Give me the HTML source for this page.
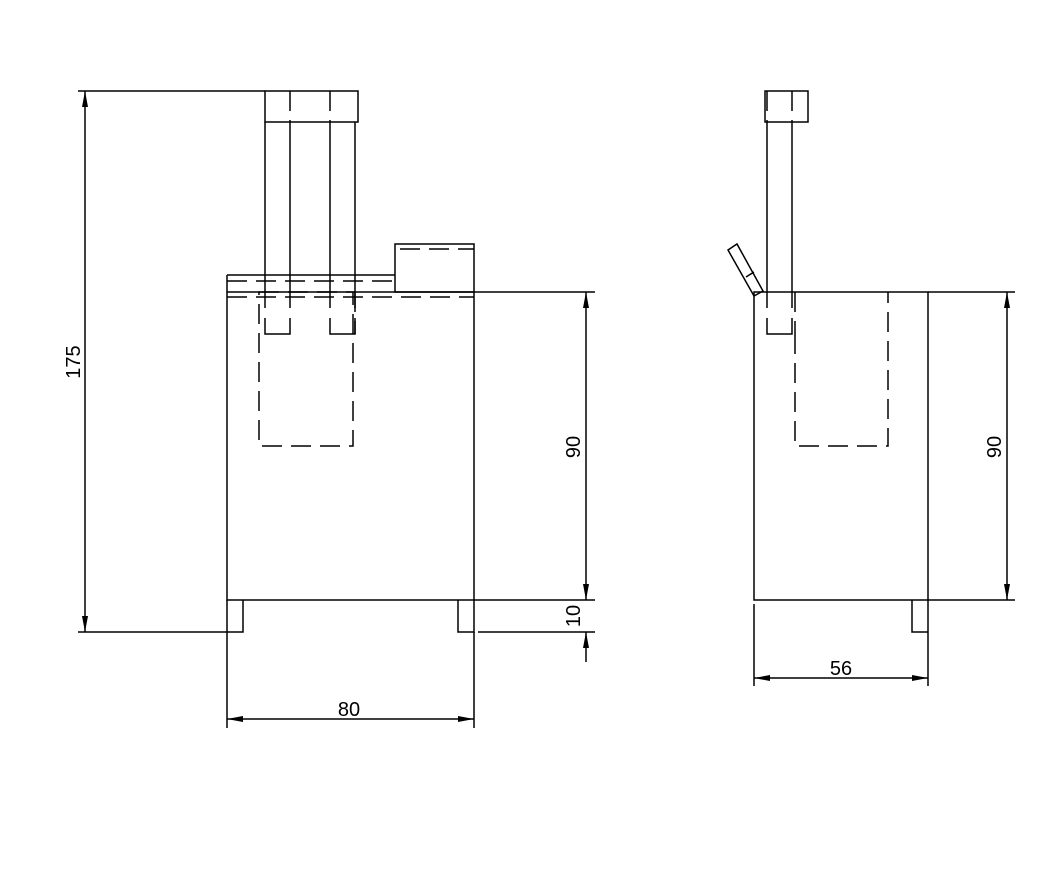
<!DOCTYPE html>
<html><head><meta charset="utf-8"><style>
html,body{margin:0;padding:0;background:#fff;}
svg{display:block;}
text{font-family:"Liberation Sans",Arial,sans-serif;font-size:20px;fill:#000;}
</style></head><body>
<svg width="1038" height="886" viewBox="0 0 1038 886" xmlns="http://www.w3.org/2000/svg">
<defs>
<marker id="a" viewBox="0 0 16 8" refX="16" refY="4" markerWidth="16" markerHeight="8" orient="auto" markerUnits="userSpaceOnUse"><path d="M0,1 L16,4 L0,7 Z" fill="#000"/></marker>
</defs>
<g stroke="#000" stroke-width="1.5" fill="none">
<!-- LEFT VIEW -->
<rect x="227" y="292" width="247" height="308"/>
<line x1="227" y1="275" x2="395" y2="275"/>
<line x1="227" y1="275" x2="227" y2="292"/>
<rect x="395" y="244" width="79" height="48"/>
<line x1="474" y1="292" x2="595" y2="292"/>
<line x1="474" y1="600" x2="595" y2="600"/>
<g stroke-dasharray="20,9">
<line x1="227" y1="281" x2="395" y2="281"/>
<line x1="227" y1="297" x2="474" y2="297"/>
<line x1="400" y1="249" x2="474" y2="249"/>
<rect x="259" y="292" width="94" height="154"/>
<line x1="355" y1="292" x2="355" y2="334"/>
</g>
<rect x="265" y="91" width="93" height="31"/>
<g stroke-dasharray="20,9">
<line x1="290" y1="91" x2="290" y2="122"/>
<line x1="330" y1="91" x2="330" y2="122"/>
</g>
<line x1="265" y1="122" x2="265" y2="308"/>
<line x1="290" y1="122" x2="290" y2="308"/>
<line x1="330" y1="122" x2="330" y2="308"/>
<line x1="355" y1="122" x2="355" y2="308"/>
<polyline points="265,318 265,334 290,334 290,318"/>
<polyline points="330,318 330,334 355,334 355,318"/>
<polyline points="227,600 227,632 243,632 243,600"/>
<polyline points="474,600 474,632 458,632 458,600"/>
<line x1="78" y1="91" x2="265" y2="91"/>
<line x1="78" y1="632" x2="227" y2="632"/>
<line x1="85" y1="362" x2="85" y2="91" marker-end="url(#a)"/>
<line x1="85" y1="362" x2="85" y2="632" marker-end="url(#a)"/>
<line x1="586" y1="446" x2="586" y2="292" marker-end="url(#a)"/>
<line x1="586" y1="446" x2="586" y2="600" marker-end="url(#a)"/>
<line x1="478" y1="632" x2="595" y2="632"/>
<line x1="586" y1="662" x2="586" y2="632" marker-end="url(#a)"/>
<line x1="227" y1="632" x2="227" y2="728"/>
<line x1="474" y1="632" x2="474" y2="728"/>
<line x1="350" y1="719" x2="227" y2="719" marker-end="url(#a)"/>
<line x1="350" y1="719" x2="474" y2="719" marker-end="url(#a)"/>

<!-- RIGHT VIEW -->
<rect x="754" y="292" width="174" height="308"/>
<line x1="928" y1="292" x2="1015" y2="292"/>
<line x1="928" y1="600" x2="1015" y2="600"/>
<rect x="765" y="91" width="43" height="31"/>
<g stroke-dasharray="20,9">
<line x1="767" y1="91" x2="767" y2="122"/>
<line x1="792" y1="91" x2="792" y2="122"/>
<line x1="795" y1="292" x2="795" y2="334"/>
<polyline points="795,334 795,446 888,446 888,292"/>
</g>
<line x1="767" y1="122" x2="767" y2="308"/>
<line x1="792" y1="122" x2="792" y2="308"/>
<polyline points="767,318 767,334 792,334 792,318"/>
<polygon points="728,250 737,244 763,291 754,296"/>
<line x1="746" y1="277" x2="754" y2="272"/>
<polyline points="912,600 912,632 928,632"/>
<line x1="928" y1="600" x2="928" y2="686"/>
<line x1="754" y1="604" x2="754" y2="686"/>
<line x1="1007" y1="446" x2="1007" y2="292" marker-end="url(#a)"/>
<line x1="1007" y1="446" x2="1007" y2="600" marker-end="url(#a)"/>
<line x1="841" y1="678" x2="754" y2="678" marker-end="url(#a)"/>
<line x1="841" y1="678" x2="928" y2="678" marker-end="url(#a)"/>
</g>
<text x="80" y="362" text-anchor="middle" transform="rotate(-90 80 362)">175</text>
<text x="580" y="447" text-anchor="middle" transform="rotate(-90 580 447)">90</text>
<text x="580" y="616" text-anchor="middle" transform="rotate(-90 580 616)">10</text>
<text x="349" y="716" text-anchor="middle">80</text>
<text x="1001" y="447" text-anchor="middle" transform="rotate(-90 1001 447)">90</text>
<text x="841" y="675" text-anchor="middle">56</text>
</svg>
</body></html>
